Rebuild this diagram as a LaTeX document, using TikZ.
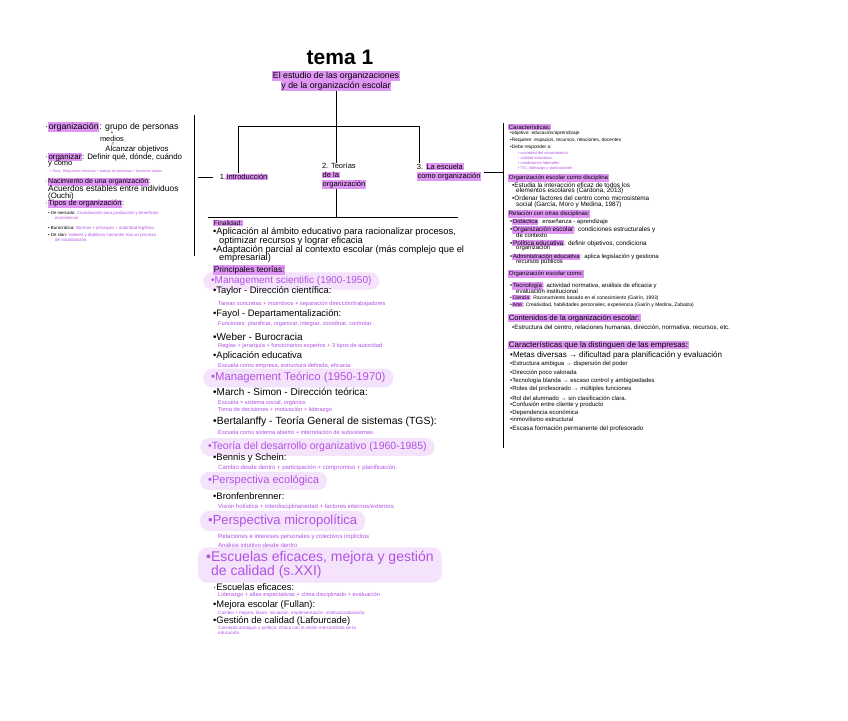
\documentclass[tikz,border=0pt]{standalone}
\usepackage{fontspec}
\setmainfont{Liberation Sans}
\usepackage{xcolor}
\usetikzlibrary{positioning}
\definecolor{hl}{RGB}{224,150,244}
\definecolor{ptxt}{RGB}{178,82,228}
\definecolor{glowc}{RGB}{245,226,251}
\newcommand\fs[1]{\fontsize{#1}{#1}\selectfont}
\newcommand\hlt[1]{{\setlength{\fboxsep}{0.7pt}\colorbox{hl}{#1}}}
\tikzset{
  txt/.style   ={anchor=west, inner sep=0pt, font=\fs{9.4}},
  sm/.style    ={anchor=west, inner sep=0pt, font=\fs{6}},
  note/.style  ={anchor=west, inner sep=0pt, text=ptxt, font=\fs{5.7}},
  big/.style   ={anchor=west, inner xsep=8pt, inner ysep=4pt, text=ptxt, fill=glowc,
                 rounded corners=9pt},
  branch/.style={inner sep=0pt, font=\fontsize{7.5}{9}\selectfont},
  tree/.style  ={line width=0.9pt, black},
}
\begin{document}
\begin{tikzpicture}[x=1pt,y=-1pt]
\useasboundingbox[fill=white] (0,0) rectangle (848,720);
% --- title ---
\node[font=\bfseries\fs{21}] (title) at (340,57) {tema 1};
\node[align=center, inner sep=0pt, font=\fontsize{8.8}{10.5}\selectfont] (sub) at (336,81)
  {\hlt{El estudio de las organizaciones}\\\hlt{y de la organización escolar}};
% --- branches ---
\node[branch] (intro) at (244,177) {1.\hlt{introducción}};
\node[branch, align=left] (teor) at (344,176) {2. Teorías\\\hlt{de la}\\\hlt{organización}};
\node[branch, align=left] (esc) at (449,172) {3. \hlt{La escuela}\\\hlt{como organización}};
\coordinate (fl) at (238,126);
\coordinate (fr) at (419,126);
\coordinate (lt) at (194,115);
\coordinate (lb) at (194,256);
\coordinate (rt) at (503,123);
\coordinate (rb) at (503,448);
\coordinate (ml) at (208,217);
\coordinate (mr) at (458,217);
\draw[tree] (sub.south) -- (sub.south |- teor.north);
\draw[tree] (fl |- intro.north) |- (fr) -- (fr |- esc.north);
\draw[tree] (lt) -- (lb);
\draw[tree] ([xshift=-7]intro.west) -- ([xshift=-22]intro.west);
\draw[tree] (rt) -- (rb);
\draw[tree] ([xshift=3]esc.east) -- (rt |- esc.east);
\draw[tree] (sub.south |- teor.south) -- (sub.south |- ml);
\draw[tree] (ml) -- (mr);
% --- left: introduccion ---
\node[txt, font=\fs{8.8}] (org) at (45,127) {·\hlt{organización}: grupo de personas};
\node[inner sep=0pt, font=\fs{5}] (plus) at (112,133) {+};
\node[inner sep=0pt, font=\fs{7.4}] (med) at (112,139) {medios};
\node[inner sep=0pt, font=\fs{5}] (eq) at (113,144.5) {=};
\node[inner sep=0pt, font=\fs{7.8}] (alc) at (137,149.5) {Alcanzar objetivos};
\node[txt, font=\fs{7.9}] (orgz) at (45,157) {·\hlt{organizar}: Definir qué, dónde, cuándo};
\node[txt, font=\fs{7.5}] (orgz2) at (48,163.5) {y cómo};
\node[note, font=\fs{3.6}] (terry) at (50,172) {• Terry: Relaciones efectivas + trabajo de personas + funciones dadas};
\node[txt, font=\fs{7}] (nac) at (45,182) {·\hlt{Nacimiento de una organización}:};
\node[txt, font=\fs{8.4}] (nac2) at (48,188.5) {Acuerdos estables entre individuos};
\node[txt, font=\fs{7.8}] (nac3) at (48,196) {(Ouchi)};
\node[txt, font=\fs{7.5}] (tip) at (45,204) {·\hlt{Tipos de organización}:};
\node[sm, font=\fs{4.3}] (tip1) at (48,213) {• De mercado: \textcolor{ptxt}{Coordinación para producción y beneficios}};
\node[note, font=\fs{4.3}] (tip1b) at (55,218) {económicos};
\node[sm, font=\fs{4.4}] (tip2) at (48,228) {• Burocrática: \textcolor{ptxt}{Normas + jerarquía + autoridad legítima.}};
\node[sm, font=\fs{4.4}] (tip3) at (48,235) {• De clan: \textcolor{ptxt}{Valores y objetivos comunes tras un proceso}};
\node[note, font=\fs{4.4}] (tip3b) at (55,240) {de socialización.};
% --- middle: teorias ---
\node[txt, font=\fs{6.5}] (fin) at (213,223) {\hlt{Finalidad:}};
\node[txt, font=\fs{9.3}] (fin1) at (213,232) {•Aplicación al ámbito educativo para racionalizar procesos,};
\node[txt, font=\fs{9.3}] (fin1b) at (219,240.8) {optimizar recursos y lograr eficacia};
\node[txt, font=\fs{9.3}] (fin2) at (213,249.6) {•Adaptación parcial al contexto escolar (más complejo que el};
\node[txt, font=\fs{9.3}] (fin2b) at (219,258.4) {empresarial)};
\node[big, font=\fs{10}] (ms) at (203,281) {•Management scientific (1900-1950)};
\node[txt, font=\fs{8.3}] (pt) at (213,270) {\hlt{Principales teorías:}};
\node[txt] (tay) at (213,291) {•Taylor - Dirección científica:};
\node[note] (tay1) at (218,304) {Tareas concretas + incentivos + separación dirección/trabajadores};
\node[txt] (fay) at (213,314) {•Fayol - Departamentalización:};
\node[note] (fay1) at (218,324) {Funciones: planificar, organizar, integrar, coordinar, controlar};
\node[txt, font=\fs{10}] (web) at (213,337) {•Weber - Burocracia};
\node[note] (web1) at (218,346) {Reglas + jerarquía + funcionarios expertos + 3 tipos de autoridad};
\node[txt] (apl) at (213,356) {•Aplicación educativa};
\node[note] (apl1) at (218,366) {Escuela como empresa, estructura definida, eficacia};
\node[big, font=\fs{11.3}] (mt) at (203,378) {•Management Teórico (1950-1970)};
\node[txt, font=\fs{10}] (mar) at (213,392) {•March - Simon - Dirección teórica:};
\node[note] (mar1) at (218,403) {Escuela = sistema social, orgánico};
\node[note] (mar2) at (218,410) {Toma de decisiones + motivación + liderazgo};
\node[txt, font=\fs{10.4}] (ber) at (213,422) {•Bertalanffy - Teoría General de sistemas (TGS):};
\node[note] (ber1) at (218,432) {Escuela como sistema abierto + interrelación de subsistemas};
\node[big, font=\fs{10.5}] (tdo) at (200,447) {•Teoría del desarrollo organizativo (1960-1985)};
\node[txt] (ben) at (213,458) {•Bennis y Schein:};
\node[note, font=\fs{6}] (ben1) at (218,468) {Cambio desde dentro + participación + compromiso + planificación.};
\node[big, font=\fs{11}] (eco) at (200,481) {•Perspectiva ecológica};
\node[txt] (bro) at (213,496) {•Bronfenbrenner:};
\node[note, font=\fs{6}] (bro1) at (218,507) {Visión holística + interdisciplinariedad + factores internos/externos};
\node[big, font=\fs{13}] (mic) at (200,521) {•Perspectiva micropolítica};
\node[note, font=\fs{6}] (mic1) at (218,537) {Relaciones e intereses personales y colectivos implícitos};
\node[note, font=\fs{6}] (mic2) at (218,545) {Análisis intuitivo desde dentro};
\node[big, align=left, font=\fontsize{14}{14}\selectfont] (efi) at (198,565)
  {•Escuelas eficaces, mejora y gestión\\\phantom{•}de calidad (s.XXI)};
\node[txt] (efi1) at (213,587) {·Escuelas eficaces:};
\node[note] (efi1a) at (218,595) {Liderazgo + altas expectativas + clima disciplinado + evaluación};
\node[txt] (efi2) at (213,605) {•Mejora escolar (Fullan):};
\node[note, font=\fs{4.6}] (efi2a) at (218,613) {Cambio + mejora, fases: iniciación, implementación, institucionalización.};
\node[txt] (efi3) at (213,621) {•Gestión de calidad (Lafourcade)};
\node[note, font=\fs{4.6}] (efi3a) at (218,628) {Concepto ambiguo y político, choca con la visión mercantilista de la};
\node[note, font=\fs{4.6}] (efi3b) at (218,633) {educación.};
% --- right: la escuela ---
\node[sm] (car) at (508,127) {\hlt{Características:}};
\node[sm, font=\fs{4.8}] (car1) at (510,133) {•objetivo: educación/aprendizaje};
\node[sm, font=\fs{4.8}] (car2) at (510,140) {•Requiere: espacios, recursos, relaciones, docentes};
\node[sm, font=\fs{4.8}] (car3) at (510,147) {•Debe responder a:};
\foreach \y/\t [count=\i] in {153/{• sociedad del conocimiento}, 158/{- calidad educativa,},
    163/{• condiciones laborales}, 168/{• TIC, liderazgo y participación}}
  \node[note, font=\fs{4}] (resp\i) at (518,\y) {\t};
\node[sm] (dis) at (508,178) {\hlt{Organización escolar como disciplina}};
\node[sm, font=\fs{6.4}] (dis1) at (512,185) {•Estudia la interacción eficaz de todos los};
\node[sm, font=\fs{6.4}] (dis1b) at (516,191) {elementos escolares (Cardona, 2013)};
\node[sm, font=\fs{6.4}] (dis2) at (512,198) {•Ordenar factores del centro como microsistema};
\node[sm, font=\fs{6.4}] (dis2b) at (516,205) {social (García, Moro y Medina, 1987)};
\node[sm] (rel) at (508,214) {\hlt{Relación con otras disciplinas:}};
\node[sm] (rel1) at (510,222) {•\hlt{Didáctica}: enseñanza - aprendizaje};
\node[sm, font=\fs{6.4}] (rel2) at (510,230) {•\hlt{Organización escolar}: condiciones estructurales y};
\node[sm] (rel2b) at (516,235) {de contexto};
\node[sm, font=\fs{6.4}] (rel3) at (510,243) {•\hlt{Política educativa}: definir objetivos, condiciona};
\node[sm] (rel3b) at (516,248) {organización};
\node[sm] (rel4) at (510,257) {•\hlt{Administración educativa}: aplica legislación y gestiona};
\node[sm] (rel4b) at (516,262) {recursos públicos};
\node[sm] (como) at (508,274) {\hlt{Organización escolar como:}};
\node[sm] (como1) at (510,286) {•\hlt{Tecnología}: actividad normativa, análisis de eficacia y};
\node[sm] (como1b) at (516,291) {evaluación institucional};
\node[sm, font=\fs{5}] (como2) at (510,298) {•\hlt{Ciencia}: Razonamiento basado en el conocimiento (Gairín, 1993)};
\node[sm, font=\fs{5}] (como3) at (510,305) {•\hlt{Arte}: Creatividad, habilidades personales, experiencia (Gairín y Medina, Zabalza)};
\node[sm, font=\fs{7.6}] (cont) at (508,318) {\hlt{Contenidos de la organización escolar:}};
\node[sm, font=\fs{6.2}] (cont1) at (512,328) {•Estructura del centro, relaciones humanas, dirección, normativa, recursos, etc.};
\node[sm, font=\fs{8}] (dif) at (508,345) {\hlt{Características que la distinguen de las empresas:}};
\node[sm, font=\fs{8}] (dif1) at (510,355) {•Metas diversas → dificultad para planificación y evaluación};
\foreach \y/\t [count=\i] in {364/{•Estructura ambigua → dispersión del poder},
    373/{•Dirección poco valorada}, 381/{•Tecnología blanda → escaso control y ambigüedades},
    389/{•Roles del profesorado → múltiples funciones}, 398/{•Rol del alumnado → sin clasificación clara.},
    405/{•Confusión entre cliente y producto}, 413/{•Dependencia económica},
    419/{•inmovilismo estructural}}
  \node[sm] (dif\i) at (510,\y) {\t};
\node[sm, font=\fs{6.3}] (dif10) at (510,429) {•Escasa formación permanente del profesorado};
\end{tikzpicture}
\end{document}
